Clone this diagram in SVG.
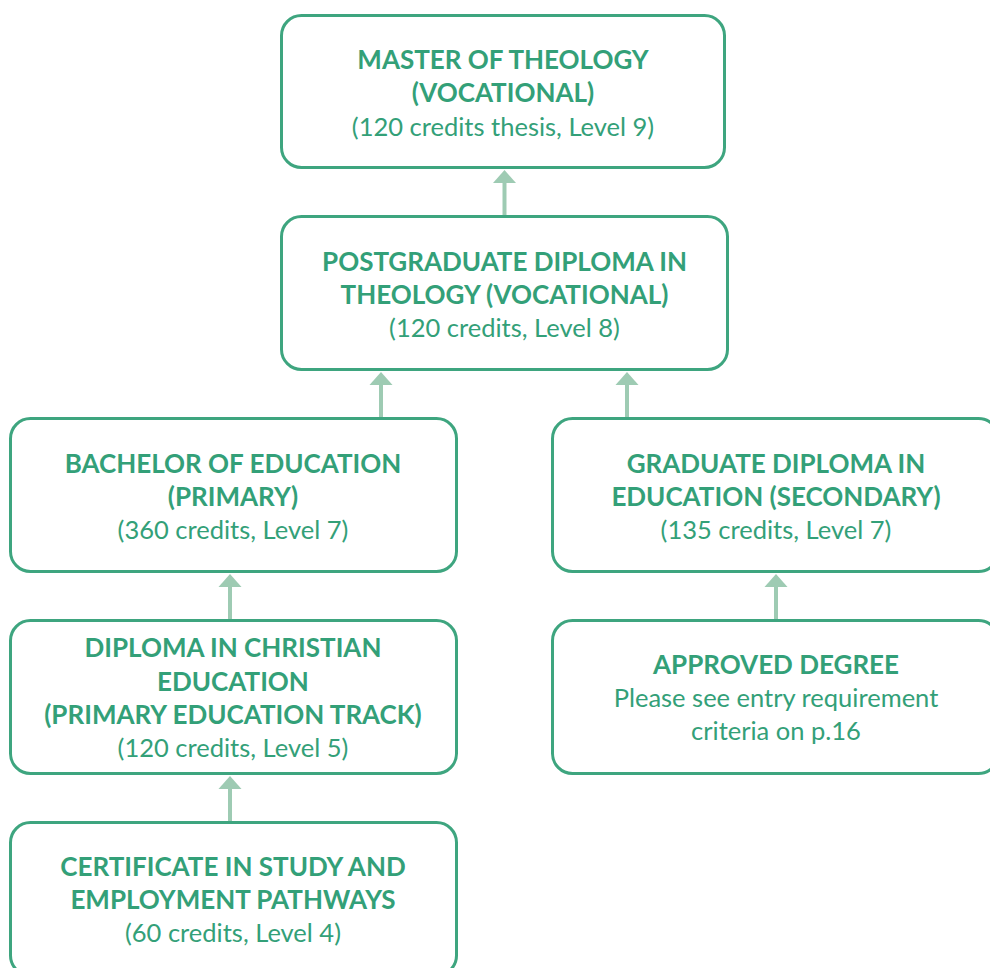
<svg xmlns="http://www.w3.org/2000/svg" width="990" height="968" viewBox="0 0 990 968">
<style>
.box{fill:#fff;stroke:#3ea57f;stroke-width:3}
.h{font-family:Lato,"Liberation Sans",sans-serif;font-weight:bold;font-size:26px;fill:#33a078;text-anchor:middle}
.t{font-family:Lato,"Liberation Sans",sans-serif;font-size:25.5px;fill:#33a078;text-anchor:middle}
.c{stroke:#9ecbb3;stroke-width:4;fill:none}
.ah{fill:#9ecbb3}
</style>
<rect width="990" height="968" fill="#fff"/>
<g id="connectors">
<line class="c" x1="504.5" y1="216" x2="504.5" y2="182"/><polygon class="ah" points="504.5,170 493,183 516,183"/>
<line class="c" x1="381" y1="418" x2="381" y2="384"/><polygon class="ah" points="381,372 369.5,385 392.5,385"/>
<line class="c" x1="627" y1="418" x2="627" y2="384"/><polygon class="ah" points="627,372 615.5,385 638.5,385"/>
<line class="c" x1="230" y1="620" x2="230" y2="586"/><polygon class="ah" points="230,574 218.5,587 241.5,587"/>
<line class="c" x1="776" y1="620" x2="776" y2="586"/><polygon class="ah" points="776,574 764.5,587 787.5,587"/>
<line class="c" x1="230" y1="822" x2="230" y2="788"/><polygon class="ah" points="230,776 218.5,789 241.5,789"/>
</g>
<g id="master">
<rect class="box" x="281.5" y="15.5" width="443" height="152" rx="20"/>
<text class="h" x="503" y="69">MASTER OF THEOLOGY</text>
<text class="h" x="503" y="102">(VOCATIONAL)</text>
<text class="t" x="503" y="136">(120 credits thesis, Level 9)</text>
</g>
<g id="postgrad">
<rect class="box" x="281.5" y="216.5" width="446" height="153" rx="20"/>
<text class="h" x="504.5" y="271">POSTGRADUATE DIPLOMA IN</text>
<text class="h" x="504.5" y="304">THEOLOGY (VOCATIONAL)</text>
<text class="t" x="504.5" y="337">(120 credits, Level 8)</text>
</g>
<g id="bachelor">
<rect class="box" x="10.5" y="418.5" width="446" height="153" rx="20"/>
<text class="h" x="233" y="473">BACHELOR OF EDUCATION</text>
<text class="h" x="233" y="506">(PRIMARY)</text>
<text class="t" x="233" y="539">(360 credits, Level 7)</text>
</g>
<g id="graddip">
<rect class="box" x="552.5" y="418.5" width="446" height="153" rx="20"/>
<text class="h" x="776" y="473">GRADUATE DIPLOMA IN</text>
<text class="h" x="776" y="506">EDUCATION (SECONDARY)</text>
<text class="t" x="776" y="539">(135 credits, Level 7)</text>
</g>
<g id="diploma">
<rect class="box" x="10.5" y="620.5" width="446" height="153" rx="20"/>
<text class="h" x="233" y="657">DIPLOMA IN CHRISTIAN</text>
<text class="h" x="233" y="691">EDUCATION</text>
<text class="h" x="233" y="724">(PRIMARY EDUCATION TRACK)</text>
<text class="t" x="233" y="757">(120 credits, Level 5)</text>
</g>
<g id="approved">
<rect class="box" x="552.5" y="620.5" width="446" height="153" rx="20"/>
<text class="h" x="776" y="674">APPROVED DEGREE</text>
<text class="t" x="776" y="707">Please see entry requirement</text>
<text class="t" x="776" y="740">criteria on p.16</text>
</g>
<g id="certificate">
<rect class="box" x="10.5" y="822.5" width="446" height="153" rx="20"/>
<text class="h" x="233" y="876">CERTIFICATE IN STUDY AND</text>
<text class="h" x="233" y="909">EMPLOYMENT PATHWAYS</text>
<text class="t" x="233" y="942">(60 credits, Level 4)</text>
</g>
</svg>
